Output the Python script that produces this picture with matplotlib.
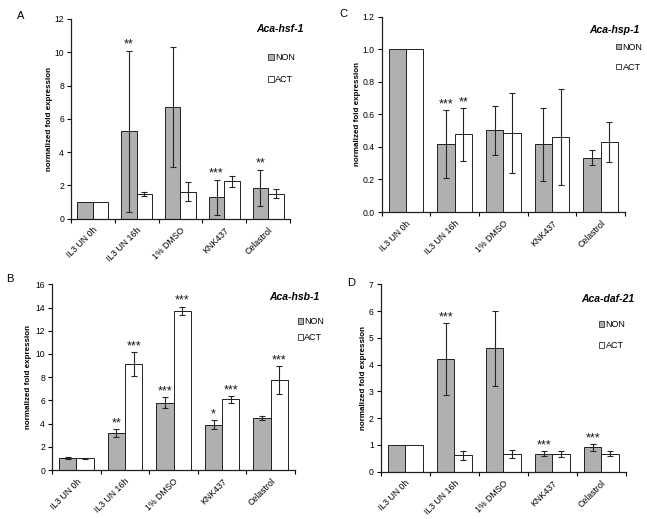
import matplotlib
matplotlib.use('Agg')
import matplotlib.pyplot as plt
from matplotlib.patches import Patch
import numpy as np

plt.rcParams['font.family'] = ['Liberation Sans', 'DejaVu Sans']

categories = ['IL3 UN 0h', 'IL3 UN 16h', '1% DMSO', 'KNK437', 'Celastrol']
series_names = ['NON', 'ACT']

# Panel A: Aca-hsf-1
hsf_non = [1.0, 5.25, 6.7, 1.3, 1.84]
hsf_non_err = [0, 4.85, 3.6, 1.05, 1.1]
hsf_act = [1.0, 1.5, 1.62, 2.24, 1.5]
hsf_act_err = [0, 0.12, 0.56, 0.35, 0.26]
hsf_non_sig = ['', '**', '', '***', '**']
hsf_act_sig = ['', '', '', '', '']

# Panel C: Aca-hsp-1
hsp_non = [1.0, 0.416, 0.502, 0.416, 0.332]
hsp_non_err = [0, 0.21, 0.15, 0.223, 0.046]
hsp_act = [1.0, 0.477, 0.484, 0.461, 0.428]
hsp_act_err = [0, 0.162, 0.245, 0.294, 0.122]
hsp_non_sig = ['', '***', '', '', '']
hsp_act_sig = ['', '**', '', '', '']

# Panel B: Aca-hsb-1
hsb_non = [1.0, 3.16, 5.78, 3.9, 4.51]
hsb_non_err = [0.08, 0.34, 0.47, 0.37, 0.17]
hsb_act = [1.0, 9.14, 13.7, 6.09, 7.76]
hsb_act_err = [0.06, 1.0, 0.36, 0.28, 1.2]
hsb_non_sig = ['', '**', '***', '*', '']
hsb_act_sig = ['', '***', '***', '***', '***']

# Panel D: Aca-daf-21
daf_non = [1.0, 4.2, 4.61, 0.68, 0.91]
daf_non_err = [0, 1.35, 1.41, 0.09, 0.12]
daf_act = [1.0, 0.61, 0.67, 0.66, 0.67]
daf_act_err = [0, 0.17, 0.15, 0.1, 0.1]
daf_non_sig = ['', '***', '', '***', '***']
daf_act_sig = ['', '', '', '', '']

NON_COLOR = '#b0b0b0'
ACT_COLOR = '#ffffff'

fig = plt.figure(figsize=(6.47, 5.19), dpi=100)


def panel(rect, non, non_err, act, act_err, non_sig, act_sig, ymax, ystep,
          fmt, title, title_xy, leg_xy, leg_sp, ylab_x):
    ax = fig.add_axes(rect)
    x = np.arange(len(categories))
    w = 0.355
    for vals, errs, sigs, off, col in [(non, non_err, non_sig, -w / 2, NON_COLOR),
                                       (act, act_err, act_sig, w / 2, ACT_COLOR)]:
        ax.bar(x + off, vals, width=w, color=col, edgecolor='#202020',
               linewidth=0.7, zorder=2)
        for xi, v, e, s in zip(x + off, vals, errs, sigs):
            if e > 0:
                ax.errorbar(xi, v, yerr=e, fmt='none', ecolor='#252525',
                            elinewidth=0.8, capsize=2.2, capthick=0.8, zorder=3)
            if s:
                ax.annotate(s, (xi, v + e), xytext=(0, 0),
                            textcoords='offset points', ha='center',
                            va='bottom', fontsize=9, color='#151515')
    ax.set_xlim(-0.5, len(categories) - 0.5)
    ax.set_ylim(0, ymax)
    ticks = np.arange(0, ymax + ystep / 2, ystep)
    ax.set_yticks(ticks)
    ax.set_yticklabels([fmt.format(t) for t in ticks], fontsize=6.2)
    ax.set_xticks(x)
    ax.set_xticklabels(categories, rotation=45, ha='right',
                       rotation_mode='anchor', fontsize=6.3)
    ax.set_xticks(np.arange(-0.5, len(categories) + 0.5, 1), minor=True)
    ax.tick_params(axis='x', which='major', length=0, pad=5)
    ax.tick_params(axis='x', which='minor', length=3, width=0.8,
                   direction='out')
    ax.tick_params(axis='y', length=3, width=0.8, direction='out', pad=2)
    for sp in ['top', 'right']:
        ax.spines[sp].set_visible(False)
    for sp in ['left', 'bottom']:
        ax.spines[sp].set_linewidth(0.9)
        ax.spines[sp].set_color('#202020')
    ax.set_ylabel('normalized fold expression', fontsize=5.8,
                  fontweight='bold')
    ax.yaxis.set_label_coords(ylab_x, 0.5)
    ax.text(title_xy[0], title_xy[1], title, transform=ax.transAxes,
            ha='right', va='center', fontsize=7.5, fontweight='bold',
            style='italic')
    handles = [Patch(facecolor=NON_COLOR, edgecolor='#303030', linewidth=0.6),
               Patch(facecolor=ACT_COLOR, edgecolor='#303030', linewidth=0.6)]
    ax.legend(handles, series_names, loc='center left',
              bbox_to_anchor=leg_xy, frameon=False, fontsize=6.5,
              handlelength=0.6, handleheight=0.6, handletextpad=0.15,
              labelspacing=leg_sp, borderpad=0, borderaxespad=0)
    return ax


panel([0.1097, 0.5786, 0.3385, 0.3848], hsf_non, hsf_non_err, hsf_act,
      hsf_act_err, hsf_non_sig, hsf_act_sig, 12, 2, '{:.0f}', 'Aca-hsf-1',
      (1.06, 0.95), (0.90, 0.752), 1.4, -0.082)
panel([0.590, 0.5915, 0.376, 0.3763], hsp_non, hsp_non_err, hsp_act,
      hsp_act_err, hsp_non_sig, hsp_act_sig, 1.2, 0.2, '{:.1f}', 'Aca-hsp-1',
      (1.058, 0.932), (0.962, 0.793), 1.2, -0.086)
panel([0.0804, 0.0944, 0.3756, 0.3578], hsb_non, hsb_non_err, hsb_act,
      hsb_act_err, hsb_non_sig, hsb_act_sig, 16, 2, '{:.0f}', 'Aca-hsb-1',
      (1.099, 0.933), (1.011, 0.757), 0.75, -0.082)
panel([0.5884, 0.0911, 0.379, 0.361], daf_non, daf_non_err, daf_act,
      daf_act_err, daf_non_sig, daf_act_sig, 7, 1, '{:.0f}', 'Aca-daf-21',
      (1.033, 0.92), (0.89, 0.729), 1.3, -0.057)

for letter, (lx, ly) in [('A', (0.0317, 0.970)), ('C', (0.531, 0.973)),
                         ('B', (0.0155, 0.4615)), ('D', (0.5425, 0.4538))]:
    fig.text(lx, ly, letter, ha='center', va='center', fontsize=8)

fig.savefig('out.png', dpi=100, facecolor='white')
